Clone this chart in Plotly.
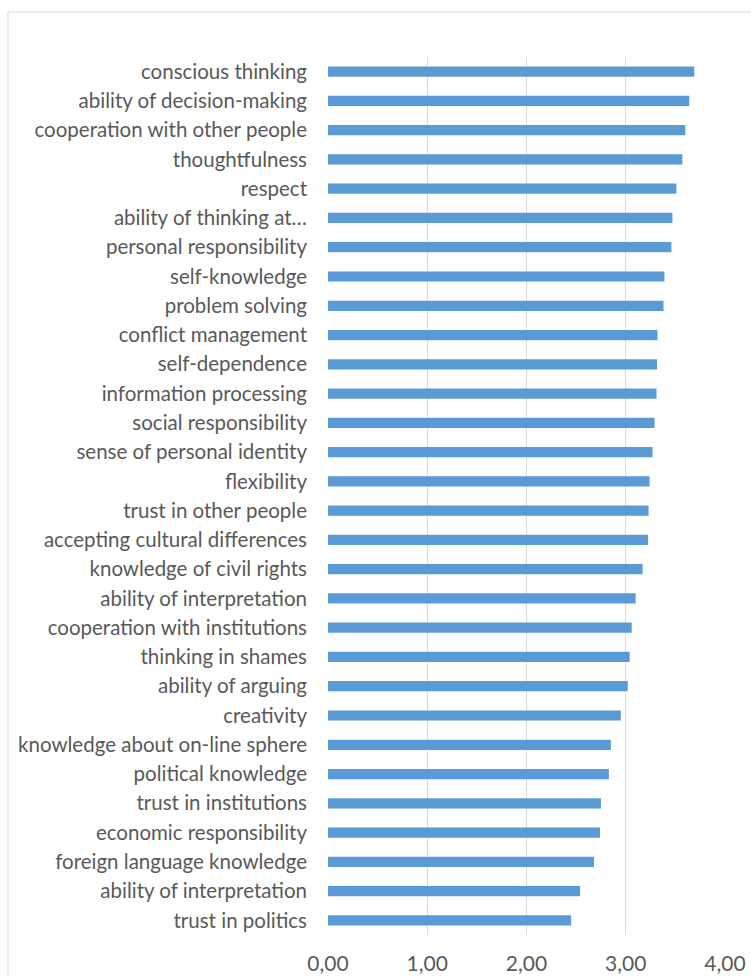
import plotly.graph_objects as go

categories = [
    "conscious thinking", "ability of decision-making", "cooperation with other people",
    "thoughtfulness", "respect", "ability of thinking at…", "personal responsibility",
    "self-knowledge", "problem solving", "conflict management", "self-dependence",
    "information processing", "social responsibility", "sense of personal identity",
    "flexibility", "trust in other people", "accepting cultural differences",
    "knowledge of civil rights", "ability of interpretation", "cooperation with institutions",
    "thinking in shames", "ability of arguing", "creativity", "knowledge about on-line sphere",
    "political knowledge", "trust in institutions", "economic responsibility",
    "foreign language knowledge", "ability of interpretation", "trust in politics",
]
values = [
    3.69, 3.64, 3.60, 3.57, 3.51, 3.47, 3.46, 3.39, 3.38, 3.32, 3.316, 3.31, 3.29, 3.27,
    3.24, 3.23, 3.225, 3.17, 3.10, 3.06, 3.04, 3.02, 2.95, 2.85, 2.83, 2.75, 2.74, 2.68,
    2.54, 2.45,
]
x_ticks = [0, 1, 2, 3, 4]
x_tick_labels = ["0,00", "1,00", "2,00", "3,00", "4,00"]

positions = list(range(len(categories)))

fig = go.Figure(go.Bar(
    y=positions, x=values, orientation="h",
    marker=dict(color="#5B9BD5", line=dict(width=0)),
    width=0.35,
    hovertext=categories,
))

fig.update_layout(
    width=751, height=976,
    margin=dict(l=328, r=26, t=57, b=41),
    paper_bgcolor="white", plot_bgcolor="white",
    font=dict(family="Lato, 'Open Sans', sans-serif", color="#595959", size=20.5),
    showlegend=False,
    xaxis=dict(
        range=[0, 4], tickvals=x_ticks, ticktext=x_tick_labels,
        showgrid=True, gridcolor="#D9D9D9", gridwidth=1,
        zeroline=False, showline=False, ticks="", automargin=False,
        ticklabelstandoff=14,
        tickfont=dict(size=21),
    ),
    yaxis=dict(
        range=[len(categories) - 0.5, -0.5],
        tickvals=positions, ticktext=categories,
        showgrid=False, zeroline=False,
        showline=False, ticks="", ticklabelstandoff=20, automargin=False,
        tickfont=dict(size=20.5),
    ),
    shapes=[dict(
        type="rect", xref="paper", yref="paper",
        x0=-320/397, x1=1.2, y0=-0.2, y1=(976-12-41)/878,
        line=dict(color="#D9D9D9", width=1), layer="below",
    )],
)

fig.write_html(
    "out.html",
    config={"displayModeBar": False},
    post_script="document.body.style.margin='0';document.body.style.overflow='hidden';",
)
